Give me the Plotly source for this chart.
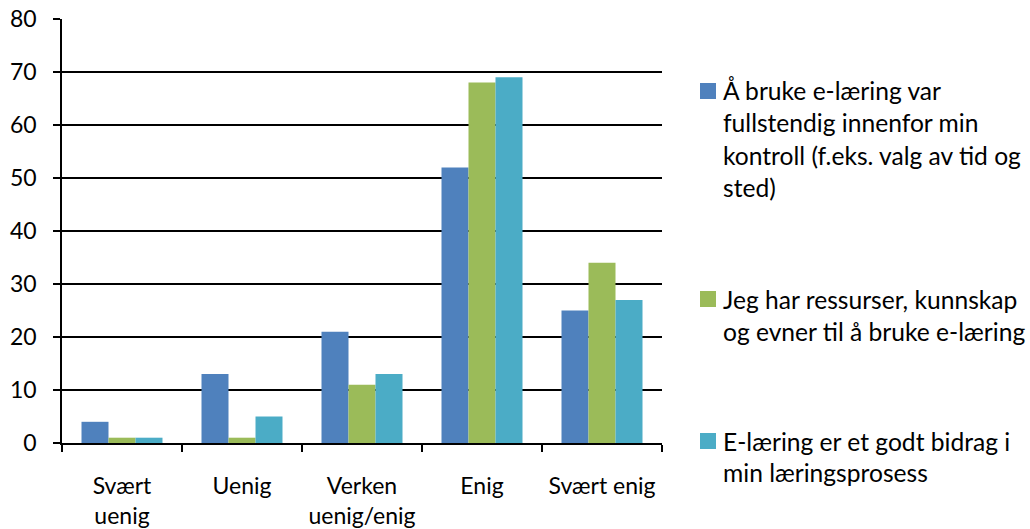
import plotly.graph_objects as go

categories = ["Svært<br>uenig", "Uenig", "Verken<br>uenig/enig", "Enig", "Svært enig"]
series_names = [
    "Å bruke e-læring var fullstendig innenfor min kontroll (f.eks. valg av tid og sted)",
    "Jeg har ressurser, kunnskap og evner til å bruke e-læring",
    "E-læring er et godt bidrag i min læringsprosess",
]
legend_lines = [
    ["Å bruke e-læring var", "fullstendig innenfor min", "kontroll (f.eks. valg av tid og", "sted)"],
    ["Jeg har ressurser, kunnskap", "og evner til å bruke e-læring"],
    ["E-læring er et godt bidrag i", "min læringsprosess"],
]
kontroll = [4, 13, 21, 52, 25]
ressurser = [1, 1, 11, 68, 34]
bidrag = [1, 5, 13, 69, 27]
colors = ["#4F81BD", "#9BBB59", "#4BACC6"]

W, H = 1030, 529
L, T = 62, 19
pw, ph = 600, 424
R, B = W - L - pw, H - T - ph

def px(x):
    return (x - L) / pw

def py(y):
    return (H - B - y) / ph

fig = go.Figure()
for i, (name, vals) in enumerate(zip(series_names, [kontroll, ressurser, bidrag])):
    fig.add_trace(go.Bar(x=categories, y=vals, name=name, marker_color=colors[i],
                         marker_line_width=0, showlegend=False))

font = "Lato, Open Sans, sans-serif"

# manual legend (wrapped text as in the reference)
first_line_y = [91, 299, 441]
line_step = 32
for i, lines in enumerate(legend_lines):
    y0 = first_line_y[i]
    fig.add_shape(type="rect", xref="paper", yref="paper",
                  x0=px(700), x1=px(716), y0=py(y0 + 8), y1=py(y0 - 8),
                  fillcolor=colors[i], line_width=0)
    for j, txt in enumerate(lines):
        fig.add_annotation(xref="paper", yref="paper", x=px(721), y=py(y0 + j * line_step),
                           xanchor="left", yanchor="middle", text=txt, showarrow=False,
                           font=dict(family=font, size=24.6, color="black"))

fig.update_layout(
    width=W, height=H,
    margin=dict(l=L, r=R, t=T, b=B, autoexpand=False),
    plot_bgcolor="white", paper_bgcolor="white",
    barmode="group", bargap=0.325, bargroupgap=0,
    font=dict(family=font, size=23, color="black"),
    showlegend=False,
    xaxis=dict(showline=True, linecolor="black", linewidth=1.5, automargin=False,
               ticks="outside", tickson="boundaries", ticklen=7, tickcolor="black",
               tickwidth=1.5, showgrid=False, ticklabelstandoff=22, tickangle=0,
               ticklabeloverflow="allow"),
    yaxis=dict(range=[0, 80], dtick=10, showline=True, linecolor="black", linewidth=1.5,
               automargin=False, ticklabelstandoff=12, ticklabeloverflow="allow",
               ticks="outside", ticklen=7, tickcolor="black", tickwidth=1.5,
               showgrid=True, gridcolor="black", gridwidth=1.5, zeroline=False),
)
fig.write_html(
    "out.html",
    config={"displayModeBar": False},
    post_script="document.body.style.margin='0px';document.body.style.overflow='hidden';",
)
